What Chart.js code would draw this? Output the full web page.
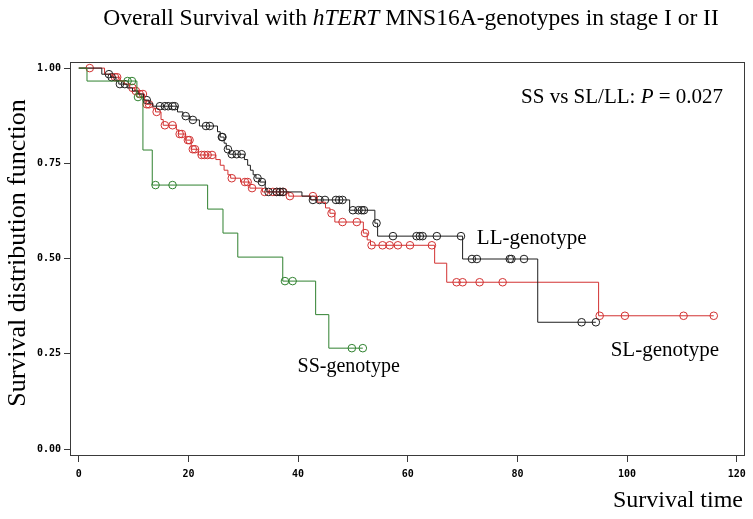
<!DOCTYPE html>
<html>
<head>
<meta charset="utf-8">
<script src="https://cdn.jsdelivr.net/npm/chart.js@4.4.0/dist/chart.umd.min.js"></script>
<style>
  html, body { margin: 0; padding: 0; background: #fff; }
  #wrap { width: 753px; height: 519px; }
</style>
</head>
<body>
<div id="wrap"><canvas id="km" width="753" height="519"></canvas></div>
<script>
// Kaplan-Meier steps: time of each drop and survival right after it
// LL-genotype (black)
const ll_time = [0, 4.2, 5.8, 6.8, 7.3, 8.8, 9.8, 10.8, 11.8, 12.8, 13.5, 18.0, 19.0, 20.3, 22.0, 25.3, 25.8, 26.5, 26.9, 27.5,
    30.2, 30.8, 31.3, 31.8, 32.3, 33.0, 34.0, 34.3, 40.7, 42.3, 49.4, 54.0, 54.5, 70.0, 83.7];
const ll_surv = [1.0, 0.984, 0.976, 0.966, 0.958, 0.948, 0.940, 0.932, 0.916, 0.908, 0.900, 0.885, 0.874, 0.864, 0.848, 0.833, 0.819, 0.803, 0.787, 0.774,
    0.760, 0.745, 0.732, 0.720, 0.711, 0.701, 0.685, 0.675, 0.664, 0.654, 0.627, 0.593, 0.559, 0.499, 0.333];
const ll_cens = [5.5, 6.0, 7.5, 8.4, 12.4, 14.8, 15.7, 16.3, 17.1, 17.5, 19.5, 20.8, 23.2, 23.9, 26.1, 26.2, 27.2, 27.9, 28.8, 29.7,
    32.6, 33.4, 34.6, 36.1, 36.7, 37.2, 42.7, 43.9, 44.9, 46.9, 47.5, 48.1, 50.0, 51.0, 51.6, 52.0, 54.3, 57.3, 61.6, 62.2,
    62.7, 65.3, 69.7, 71.7, 72.6, 78.6, 78.9, 81.2, 91.7, 94.3];

// SL-genotype (red)
const sl_time = [0, 4.7, 6.2, 7.5, 8.3, 9.3, 10.2, 10.9, 12.0, 12.3, 13.5, 14.0, 15.0, 15.4, 17.8, 18.2, 19.5, 20.5, 21.8, 25.0,
    25.8, 26.5, 27.2, 27.7, 29.5, 31.2, 33.5, 38.3, 43.5, 45.0, 45.8, 46.7, 51.9, 52.6, 53.2, 64.9, 67.1, 94.8];
const sl_surv = [1.0, 0.984, 0.976, 0.966, 0.958, 0.948, 0.940, 0.932, 0.916, 0.905, 0.895, 0.885, 0.865, 0.850, 0.838, 0.827, 0.811, 0.787, 0.772, 0.760,
    0.745, 0.732, 0.720, 0.711, 0.701, 0.685, 0.675, 0.664, 0.648, 0.633, 0.619, 0.596, 0.567, 0.549, 0.535, 0.488, 0.438, 0.350];
const sl_cens = [2.0, 6.6, 7.0, 9.8, 10.4, 11.1, 11.7, 12.4, 12.8, 14.2, 15.7, 17.1, 18.4, 18.8, 19.9, 20.2, 20.8, 21.2, 22.4, 22.9,
    23.5, 24.3, 27.9, 30.3, 30.8, 31.6, 33.9, 35.4, 36.1, 36.7, 37.3, 38.5, 42.7, 46.1, 48.1, 50.7, 52.2, 53.4, 55.4, 56.7,
    58.2, 60.4, 64.4, 68.9, 70.0, 73.1, 77.3, 95.0, 99.6, 110.3, 115.8];

// SS-genotype (green)
const ss_time = [0, 1.5, 10.6, 11.7, 13.4, 23.5, 26.3, 29.0, 37.2, 43.2, 45.6];
const ss_surv = [1.0, 0.966, 0.924, 0.785, 0.693, 0.630, 0.567, 0.504, 0.441, 0.353, 0.265];
const ss_cens = [8.9, 9.7, 10.8, 14.0, 17.1, 37.6, 39.0, 49.8, 51.8];

const x_ticks = [0, 20, 40, 60, 80, 100, 120];
const y_ticks = [0, 0.25, 0.5, 0.75, 1.0];

const col_ll = '#1e1e1e';
const col_sl = '#d23232';
const col_ss = '#2f812f';

// survival value at time t (last step at or before t)
function surv_at(times, surv, t) {
    let s = surv[0];
    for (let i = 0; i < times.length; i++) {
        if (times[i] <= t) s = surv[i];
    }
    return s;
}
function step_points(times, surv, cens) {
    let pts = times.map((t, i) => ({ x: t, y: surv[i] }));
    let end = Math.max(times[times.length - 1], cens[cens.length - 1]);
    pts.push({ x: end, y: surv[surv.length - 1] });
    return pts;
}
function cens_points(times, surv, cens) {
    return cens.map(t => ({ x: t, y: surv_at(times, surv, t) }));
}

function line_ds(label, pts, color) {
    return {
        type: 'line', label: label, data: pts, stepped: 'before',
        borderColor: color, borderWidth: 1, pointRadius: 0, fill: false
    };
}
function mark_ds(label, pts, color) {
    return {
        type: 'scatter', label: label, data: pts, showLine: false,
        pointStyle: 'circle', pointRadius: 3.8, borderWidth: 1,
        borderColor: color, backgroundColor: 'rgba(0,0,0,0)'
    };
}

// draws a text made of plain/italic runs
function draw_runs(ctx, runs, x, y, align, size) {
    let widths = runs.map(r => {
        ctx.font = (r[1] ? 'italic ' : '') + size + 'px "Liberation Serif"';
        return ctx.measureText(r[0]).width;
    });
    let total = widths.reduce((a, b) => a + b, 0);
    let cx = align === 'center' ? x - total / 2 : (align === 'right' ? x - total : x);
    runs.forEach((r, i) => {
        ctx.font = (r[1] ? 'italic ' : '') + size + 'px "Liberation Serif"';
        ctx.fillText(r[0], cx, y);
        cx += widths[i];
    });
}

const texts_plugin = {
    id: 'texts',
    beforeDatasetsDraw(chart) {
        const ctx = chart.ctx, a = chart.chartArea;
        ctx.save();
        ctx.strokeStyle = '#3a3a3a';
        ctx.lineWidth = 1;
        ctx.strokeRect(a.left + 0.5, a.top + 0.5, a.right - a.left - 1, a.bottom - a.top - 1);
        ctx.restore();
    },
    afterDraw(chart) {
        const ctx = chart.ctx;
        const xs = chart.scales.x, ys = chart.scales.y;
        ctx.save();
        ctx.fillStyle = '#000';
        ctx.textBaseline = 'middle';
        draw_runs(ctx, [['Overall Survival with ', false], ['hTERT', true], [' MNS16A-genotypes in stage I or II', false]], 411, 19, 'center', 23.5);
        draw_runs(ctx, [['SS vs SL/LL: ', false], ['P', true], [' = 0.027', false]], xs.getPixelForValue(117.5), ys.getPixelForValue(0.924), 'right', 21);
        draw_runs(ctx, [['LL-genotype', false]], xs.getPixelForValue(72.6), ys.getPixelForValue(0.554), 'left', 21);
        draw_runs(ctx, [['SL-genotype', false]], xs.getPixelForValue(97.0), ys.getPixelForValue(0.260), 'left', 21);
        draw_runs(ctx, [['SS-genotype', false]], xs.getPixelForValue(39.9), ys.getPixelForValue(0.215), 'left', 20);
        draw_runs(ctx, [['Survival time', false]], 743, 501, 'right', 24);
        ctx.translate(18, 253);
        ctx.rotate(-Math.PI / 2);
        draw_runs(ctx, [['Survival distribution function', false]], 0, 0, 'center', 26);
        ctx.restore();
    }
};

const tick_font = { family: '"DejaVu Sans Mono"', size: 10, weight: 'bold' };

new Chart(document.getElementById('km'), {
    data: {
        datasets: [
            line_ds('SS-genotype', step_points(ss_time, ss_surv, ss_cens), col_ss),
            line_ds('LL-genotype', step_points(ll_time, ll_surv, ll_cens), col_ll),
            line_ds('SL-genotype', step_points(sl_time, sl_surv, sl_cens), col_sl),
            mark_ds('SS censored', cens_points(ss_time, ss_surv, ss_cens), col_ss),
            mark_ds('LL censored', cens_points(ll_time, ll_surv, ll_cens), col_ll),
            mark_ds('SL censored', cens_points(sl_time, sl_surv, sl_cens), col_sl)
        ]
    },
    options: {
        responsive: false,
        animation: false,
        layout: { padding: { top: 62, right: 8, left: 0, bottom: 0 } },
        plugins: { legend: { display: false }, tooltip: { enabled: false }, title: { display: false } },
        scales: {
            x: {
                type: 'linear', min: -1.6, max: 121.5,
                afterBuildTicks: s => { s.ticks = x_ticks.map(v => ({ value: v })); },
                afterFit: s => { s.height = 63; },
                ticks: { font: tick_font, color: '#000', padding: 6, maxRotation: 0 },
                grid: { display: true, drawOnChartArea: false, drawTicks: true, tickLength: 6, color: '#3a3a3a' },
                border: { display: false }
            },
            y: {
                type: 'linear', min: -0.018, max: 1.016,
                afterBuildTicks: s => { s.ticks = y_ticks.map(v => ({ value: v })); },
                afterFit: s => { s.width = 70; },
                ticks: { font: tick_font, color: '#000', padding: 3, callback: v => v.toFixed(2) },
                grid: { display: true, drawOnChartArea: false, drawTicks: true, tickLength: 6, color: '#3a3a3a' },
                border: { display: false }
            }
        }
    },
    plugins: [texts_plugin]
});
</script>
</body>
</html>
